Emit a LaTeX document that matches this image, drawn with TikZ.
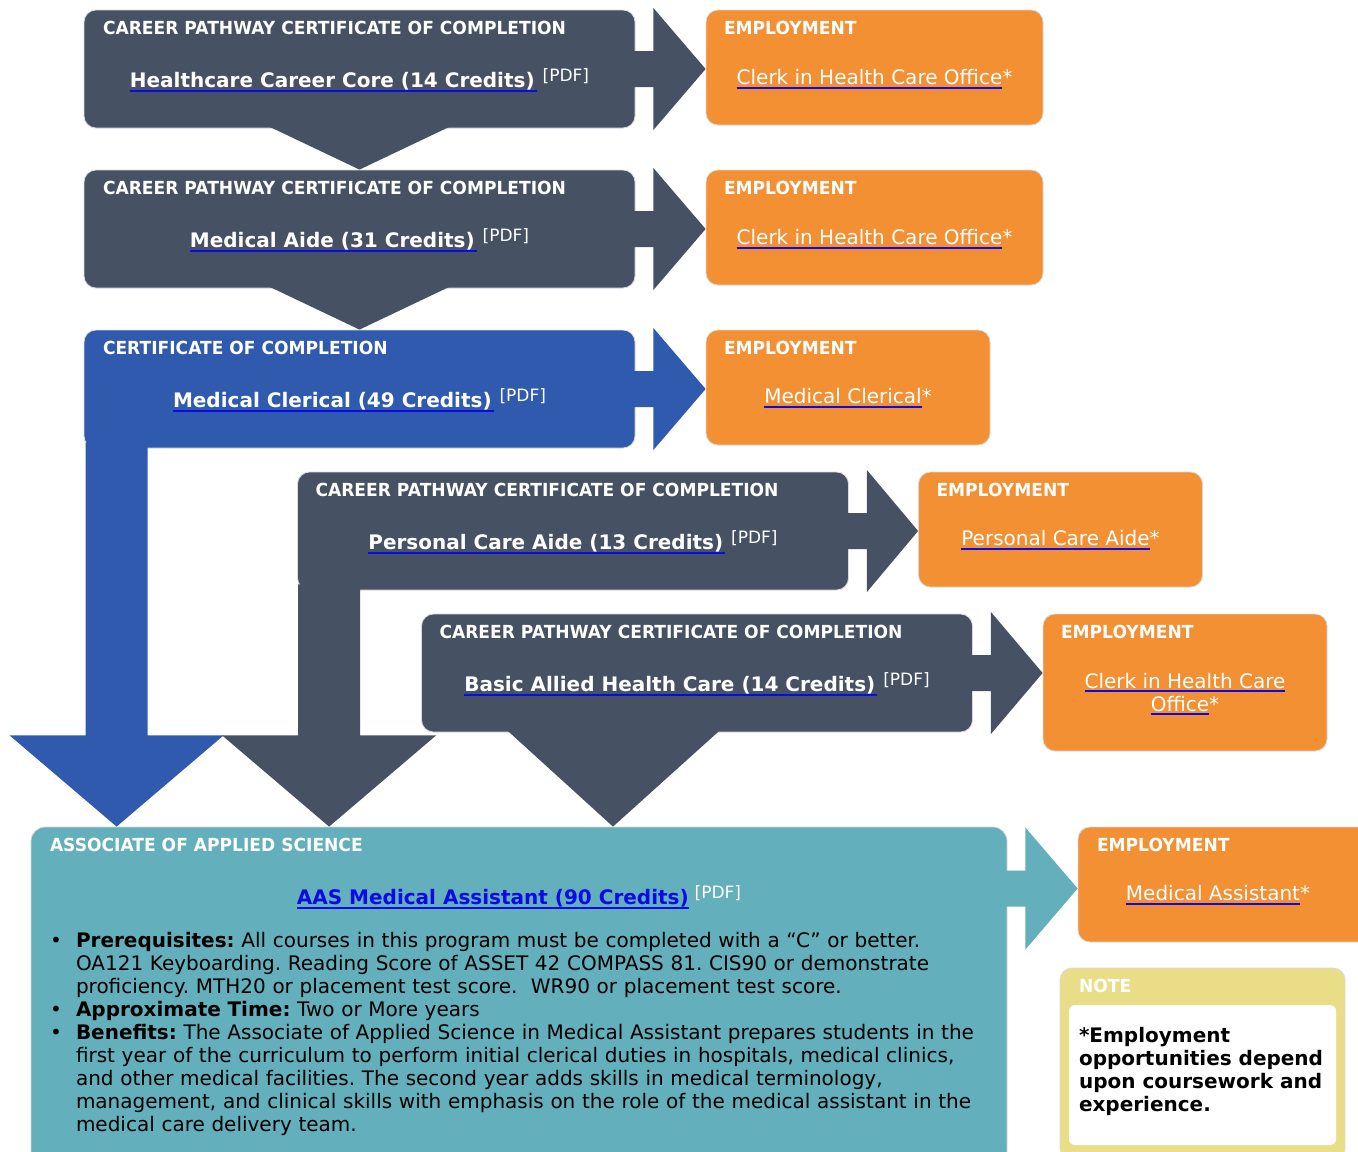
\documentclass[tikz,border=0pt]{standalone}
\usepackage{fontspec}
\setmainfont{DejaVu Sans}
\newfontfamily\headfont[FakeStretch=0.95]{DejaVu Sans Bold}
\usetikzlibrary{calc}
\frenchspacing

\definecolor{slate}{RGB}{70,82,99}
\definecolor{certblue}{RGB}{47,90,174}
\definecolor{emporange}{RGB}{243,144,51}
\definecolor{aasteal}{RGB}{99,175,187}
\definecolor{noteyellow}{RGB}{233,222,135}
\definecolor{ulblue}{RGB}{10,10,230}

\newsavebox\ulbox
\newcommand{\ulink}[1]{\sbox\ulbox{#1}\rlap{\color{ulblue}\rule[-2pt]{\wd\ulbox}{1pt}}\usebox\ulbox}
\newcommand{\pdftag}{\raisebox{3pt}{\fontsize{8.5}{9}\selectfont\mdseries[PDF]}}

\begin{document}
\begin{tikzpicture}[
    x=0.5pt, y=-0.5pt,
    cert/.style={rectangle, rounded corners=6pt, fill=slate, draw=black!15, line width=0.4pt, minimum width=275.5pt, minimum height=59pt, inner sep=0pt},
    emp/.style={rectangle, rounded corners=6pt, fill=emporange, draw=black!15, line width=0.4pt, minimum width=142pt, minimum height=57.5pt, inner sep=0pt},
    title/.style={anchor=base west, inner sep=0pt, text=white, font=\headfont\fontsize{9}{11}\selectfont},
    link/.style={anchor=base, inner sep=0pt, text=white, font=\bfseries\fontsize{10}{12}\selectfont},
    emplink/.style={anchor=base, inner sep=0pt, text=white, font=\fontsize{10}{11.5}\selectfont, align=center}
]

\useasboundingbox (0,0) rectangle (1358,1151);
\fill[white] (0,0) rectangle (1358,1151);

% Certificate boxes
\node (hc_core) at (359.5,69) [cert] {};
\node (med_aide) at (359.5,229) [cert] {};
\node (med_cler) at (359.5,389) [cert, fill=certblue] {};
\node (pc_aide) at (573,531) [cert] {};
\node (basic_ahc) at (697,673) [cert] {};
\node (aas) at (519,996) [cert, fill=aasteal, rounded corners=7pt, minimum width=488pt, minimum height=169pt] {};

% Employment boxes
\node (emp_hc) at (874.5,67.5) [emp, minimum width=168.5pt] {};
\node (emp_aide) at (874.5,227.5) [emp, minimum width=168.5pt] {};
\node (emp_cler) at (848,387.5) [emp] {};
\node (emp_pca) at (1060.5,529.5) [emp] {};
\node (emp_bahc) at (1185,682.5) [emp, minimum height=68.5pt] {};
\node (emp_ma) at (1224,884.5) [emp, minimum width=146pt] {};

% Note box
\node (note) at (1202.5,1064) [rectangle, rounded corners=6pt, fill=noteyellow, draw=black!15, line width=0.4pt, minimum width=142.5pt, minimum height=96pt] {};
\node (note_body) at (1202.5,1075) [rectangle, rounded corners=3pt, fill=white, minimum width=133.5pt, minimum height=70pt] {};

% Connections
\fill[slate] ($(hc_core.south)+(-95,-4)$) -- ($(hc_core.south)+(95,-4)$) -- (med_aide.north) -- cycle;
\fill[slate] ($(med_aide.south)+(-95,-4)$) -- ($(med_aide.south)+(95,-4)$) -- (med_cler.north) -- cycle;

\coordinate (blue_axis) at ($(med_cler.south west)+(33,0)$);
\fill[certblue] ($(blue_axis)+(-31,-6)$) -- ($(blue_axis |- basic_ahc.south)+(-31,3)$) -- ++(-76,0) -- (blue_axis |- aas.north) -- ($(blue_axis |- basic_ahc.south)+(107,3)$) -- ++(-76,0) -- ($(blue_axis)+(31,-6)$) -- cycle;

\coordinate (slate_axis) at ($(pc_aide.south west)+(32,0)$);
\fill[slate] ($(slate_axis)+(-31,-6)$) -- ($(slate_axis |- basic_ahc.south)+(-31,3)$) -- ++(-76,0) -- (slate_axis |- aas.north) -- ($(slate_axis |- basic_ahc.south)+(107,3)$) -- ++(-76,0) -- ($(slate_axis)+(31,-6)$) -- cycle;

\fill[slate] ($(basic_ahc.south)+(-192,-4)$) -- ($(basic_ahc.south)+(25,-4)$) -- ($(basic_ahc.south |- aas.north)+(-84,0)$) -- cycle;

\fill[slate] ($(hc_core.east)+(-4,-18)$) -- ++(22,0) -- ++(0,-43) -- (emp_hc.west |- hc_core.east) -- ($(hc_core.east)+(18,61)$) -- ++(0,-43) -- ++(-22,0) -- cycle;
\fill[slate] ($(med_aide.east)+(-4,-18)$) -- ++(22,0) -- ++(0,-43) -- (emp_aide.west |- med_aide.east) -- ($(med_aide.east)+(18,61)$) -- ++(0,-43) -- ++(-22,0) -- cycle;
\fill[certblue] ($(med_cler.east)+(-4,-18)$) -- ++(22,0) -- ++(0,-43) -- (emp_cler.west |- med_cler.east) -- ($(med_cler.east)+(18,61)$) -- ++(0,-43) -- ++(-22,0) -- cycle;
\fill[slate] ($(pc_aide.east)+(-4,-18)$) -- ++(22,0) -- ++(0,-43) -- (emp_pca.west |- pc_aide.east) -- ($(pc_aide.east)+(18,61)$) -- ++(0,-43) -- ++(-22,0) -- cycle;
\fill[slate] ($(basic_ahc.east)+(-4,-18)$) -- ++(22,0) -- ++(0,-43) -- (emp_bahc.west |- basic_ahc.east) -- ($(basic_ahc.east)+(18,61)$) -- ++(0,-43) -- ++(-22,0) -- cycle;

\coordinate (teal_axis) at ($(aas.east |- emp_ma.west)+(0,4)$);
\fill[aasteal] ($(teal_axis)+(-4,-18)$) -- ++(22,0) -- ++(0,-43) -- (emp_ma.west |- teal_axis) -- ($(teal_axis)+(18,61)$) -- ++(0,-43) -- ++(-22,0) -- cycle;

% Titles and links
\node (hc_core_title) at ($(hc_core.north west)+(19,25)$) [title] {CAREER PATHWAY CERTIFICATE OF COMPLETION};
\node (hc_core_link) at ($(hc_core.north)+(0,78)$) [link] {\ulink{Healthcare Career Core (14 Credits)\kern1pt}\kern3pt\pdftag};
\node (med_aide_title) at ($(med_aide.north west)+(19,25)$) [title] {CAREER PATHWAY CERTIFICATE OF COMPLETION};
\node (med_aide_link) at ($(med_aide.north)+(0,78)$) [link] {\ulink{Medical Aide (31 Credits)\kern1pt}\kern3pt\pdftag};
\node (med_cler_title) at ($(med_cler.north west)+(19,25)$) [title] {CERTIFICATE OF COMPLETION};
\node (med_cler_link) at ($(med_cler.north)+(0,78)$) [link] {\ulink{Medical Clerical (49 Credits)\kern1pt}\kern3pt\pdftag};
\node (pc_aide_title) at ($(pc_aide.north west)+(18,25)$) [title] {CAREER PATHWAY CERTIFICATE OF COMPLETION};
\node (pc_aide_link) at ($(pc_aide.north)+(0,78)$) [link] {\ulink{Personal Care Aide (13 Credits)\kern1pt}\kern3pt\pdftag};
\node (basic_ahc_title) at ($(basic_ahc.north west)+(18,25)$) [title] {CAREER PATHWAY CERTIFICATE OF COMPLETION};
\node (basic_ahc_link) at ($(basic_ahc.north)+(0,78)$) [link] {\ulink{Basic Allied Health Care (14 Credits)\kern1pt}\kern3pt\pdftag};

\node (emp_hc_title) at ($(emp_hc.north west)+(18,25)$) [title] {EMPLOYMENT};
\node (emp_hc_link) at ($(emp_hc.north)+(0,75)$) [emplink] {\ulink{Clerk in Health Care Office}*};
\node (emp_aide_title) at ($(emp_aide.north west)+(18,25)$) [title] {EMPLOYMENT};
\node (emp_aide_link) at ($(emp_aide.north)+(0,75)$) [emplink] {\ulink{Clerk in Health Care Office}*};
\node (emp_cler_title) at ($(emp_cler.north west)+(18,25)$) [title] {EMPLOYMENT};
\node (emp_cler_link) at ($(emp_cler.north)+(0,74)$) [emplink] {\ulink{Medical Clerical}*};
\node (emp_pca_title) at ($(emp_pca.north west)+(18,25)$) [title] {EMPLOYMENT};
\node (emp_pca_link) at ($(emp_pca.north)+(0,74)$) [emplink] {\ulink{Personal Care Aide}*};
\node (emp_bahc_title) at ($(emp_bahc.north west)+(18,25)$) [title] {EMPLOYMENT};
\node (emp_bahc_link) at ($(emp_bahc.north)+(0,59)$) [emplink, anchor=north] {\ulink{Clerk in Health Care}\\\ulink{Office}*};
\node (emp_ma_title) at ($(emp_ma.north west)+(19,25)$) [title] {EMPLOYMENT};
\node (emp_ma_link) at ($(emp_ma.north)+(-6,74)$) [emplink] {\ulink{Medical Assistant}*};

\node (aas_title) at ($(aas.north west)+(19,25)$) [title] {ASSOCIATE OF APPLIED SCIENCE};
\node (aas_link) at ($(aas.north)+(0,78)$) [link] {\textcolor{ulblue}{\ulink{AAS Medical Assistant (90 Credits)}}\kern3pt\pdftag};
\node (aas_body) at ($(aas.north west)+(19,105)$) [anchor=north west, inner sep=0pt, text width=478pt, align=left, font=\fontsize{10}{11.5}\selectfont] {%
\hangindent=13pt\hangafter=1\noindent\makebox[13pt][l]{\textbullet}\textbf{Prerequisites:} All courses in this program must be completed with a “C” or better.\newline
OA121 Keyboarding. Reading Score of ASSET 42 COMPASS 81. CIS90 or demonstrate\newline
proficiency. MTH20 or placement test score.\ \ WR90 or placement test score.\par
\hangindent=13pt\hangafter=1\noindent\makebox[13pt][l]{\textbullet}\textbf{Approximate Time:} Two or More years\par
\hangindent=13pt\hangafter=1\noindent\makebox[13pt][l]{\textbullet}\textbf{Benefits:} The Associate of Applied Science in Medical Assistant prepares students in the\newline
first year of the curriculum to perform initial clerical duties in hospitals, medical clinics,\newline
and other medical facilities. The second year adds skills in medical terminology,\newline
management, and clinical skills with emphasis on the role of the medical assistant in the\newline
medical care delivery team.\par};

\node (note_title) at ($(note.north west)+(19,25)$) [title] {NOTE};
\node (note_text) at ($(note_body.north west)+(10,22)$) [anchor=north west, inner sep=0pt, align=left, font=\bfseries\fontsize{10}{11.5}\selectfont] {*Employment\\opportunities depend\\upon coursework and\\experience.};

\end{tikzpicture}
\end{document}
